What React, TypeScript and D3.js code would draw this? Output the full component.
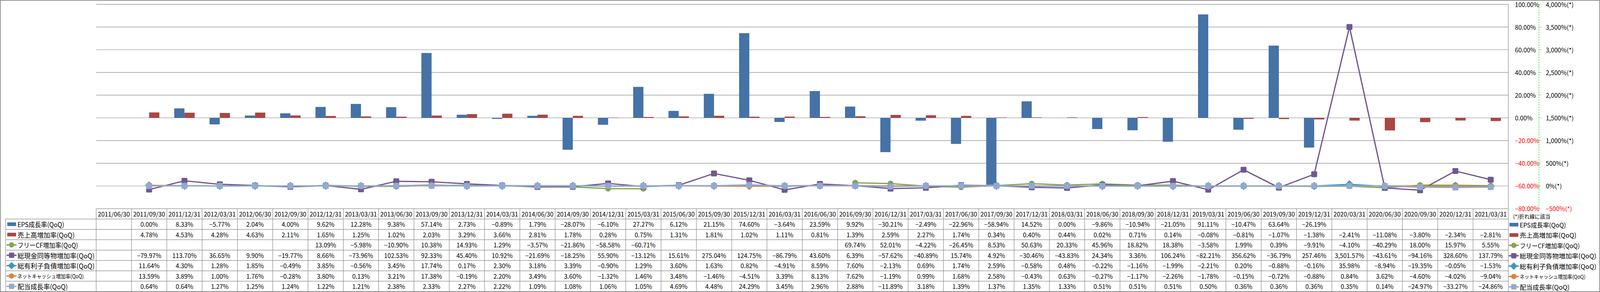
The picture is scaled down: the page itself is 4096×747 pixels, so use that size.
import React, { useEffect } from "react";
import * as d3 from "d3";

// quarter end dates (columns of the data table)
const dates = [
  "2011/06/30", "2011/09/30", "2011/12/31", "2012/03/31", "2012/06/30", "2012/09/30", "2012/12/31", "2013/03/31",
  "2013/06/30", "2013/09/30", "2013/12/31", "2014/03/31", "2014/06/30", "2014/09/30", "2014/12/31", "2015/03/31",
  "2015/06/30", "2015/09/30", "2015/12/31", "2016/03/31", "2016/06/30", "2016/09/30", "2016/12/31", "2017/03/31",
  "2017/06/30", "2017/09/30", "2017/12/31", "2018/03/31", "2018/06/30", "2018/09/30", "2018/12/31", "2019/03/31",
  "2019/06/30", "2019/09/30", "2019/12/31", "2020/03/31", "2020/06/30", "2020/09/30", "2020/12/31", "2021/03/31",
];

// bars (left axis, %)
const epsGrowth: (number | null)[] = [
  null, 0.0, 8.33, -5.77, 2.04, 4.0, 9.62, 12.28, 9.38, 57.14, 2.73, -0.89, 1.79, -28.07, -6.1, 27.27, 6.12, 21.15,
  74.6, -3.64, 23.59, 9.92, -30.21, -2.49, -22.96, -58.94, 14.52, 0.0, -9.86, -10.94, -21.05, 91.11, -10.47, 63.64,
  -26.19, null, null, null, null, null,
];
const salesGrowth: (number | null)[] = [
  null, 4.78, 4.53, 4.28, 4.63, 2.11, 1.65, 1.25, 1.02, 2.03, 3.29, 3.66, 2.81, 1.78, 0.28, 0.75, 1.31, 1.81, 1.02,
  1.11, 0.81, 1.39, 2.59, 2.27, 1.74, 0.34, 0.4, 0.44, 0.02, 0.71, 0.14, -0.08, -0.81, -1.07, -1.38, -2.41, -11.08,
  -3.8, -2.34, -2.81,
];

// lines (right axis, %)
const fcfGrowth: (number | null)[] = [
  null, null, null, null, null, null, 13.09, -5.98, -10.9, 10.38, 14.93, 1.29, -3.57, -21.86, -58.58, -60.71, null,
  null, null, null, null, 69.74, 52.01, -4.22, -26.45, 8.53, 50.63, 20.33, 45.96, 18.82, 18.38, -3.58, 1.99, 0.39,
  -9.91, -4.1, -40.29, 18.0, 15.97, 5.55,
];
const cashGrowth: (number | null)[] = [
  null, -79.97, 113.7, 36.65, 9.9, -19.77, 8.66, -73.96, 102.53, 92.33, 45.4, 10.92, -21.69, -18.25, 55.9, -13.12,
  15.61, 275.04, 124.75, -86.79, 43.6, 6.39, -57.62, -40.89, 15.74, 4.92, -30.46, -43.83, 24.34, 3.36, 106.24,
  -82.21, 356.62, -36.79, 257.46, 3501.57, -43.61, -94.16, 328.6, 137.79,
];
const debtGrowth: (number | null)[] = [
  null, 11.64, 4.3, 1.28, 1.85, -0.49, 3.85, -0.56, 3.45, 17.74, 0.17, 2.3, 3.18, 3.39, -0.9, 1.29, 3.6, 1.63, 0.82,
  -4.91, 8.59, 7.6, -2.13, 0.69, 1.74, 2.59, -0.58, 0.48, -0.22, -1.16, -1.99, -2.21, 0.2, -0.88, -0.16, 35.98,
  -8.94, -19.35, -0.05, -1.53,
];
const netCashGrowth: (number | null)[] = [
  null, 13.59, 3.89, 1.0, 1.76, -0.28, 3.8, 0.13, 3.21, 17.38, -0.19, 2.2, 3.49, 3.6, -1.32, 1.46, 3.48, -1.46,
  -4.51, 3.39, 8.13, 7.62, -1.19, 0.99, 1.68, 2.58, -0.43, 0.63, -0.27, -1.17, -2.26, -1.78, -0.15, -0.72, -0.88,
  0.84, 3.62, -4.6, -4.02, -9.04,
];
const dividendGrowth: (number | null)[] = [
  null, 0.64, 0.64, 1.27, 1.25, 1.24, 1.22, 1.21, 2.38, 2.33, 2.27, 2.22, 1.09, 1.08, 1.06, 1.05, 4.69, 4.48, 24.29,
  3.45, 2.96, 2.88, -11.89, 3.18, 1.39, 1.37, 1.35, 1.33, 0.51, 0.51, 0.51, 0.5, 0.36, 0.36, 0.36, 0.35, 0.14,
  -24.97, -33.27, -24.86,
];

const leftTicks = d3.range(-80, 101, 20);
const rightTicks = d3.range(-500, 4001, 500);

type Marker = "rect" | "circle" | "square" | "diamond";
interface Series {
  name: string;
  values: (number | null)[];
  color: string;
  kind: "bar" | "line";
  marker: Marker;
  labelWidth: number;
  labelSize: number;
}

const series: Series[] = [
  { name: "EPS成長率(QoQ)", values: epsGrowth, color: "#4572A7", kind: "bar", marker: "rect", labelWidth: 206, labelSize: 29 },
  { name: "売上高増加率(QoQ)", values: salesGrowth, color: "#AA4643", kind: "bar", marker: "rect", labelWidth: 252, labelSize: 29 },
  { name: "フリーCF増加率(QoQ)", values: fcfGrowth, color: "#89A54E", kind: "line", marker: "circle", labelWidth: 267, labelSize: 29 },
  { name: "総現金同等物増加率(QoQ)", values: cashGrowth, color: "#71588F", kind: "line", marker: "square", labelWidth: 340, labelSize: 29 },
  { name: "総有利子負債増加率(QoQ)", values: debtGrowth, color: "#4198AF", kind: "line", marker: "diamond", labelWidth: 340, labelSize: 29 },
  { name: "ネットキャッシュ増加率(QoQ)", values: netCashGrowth, color: "#DB843D", kind: "line", marker: "circle", labelWidth: 292, labelSize: 24 },
  { name: "配当成長率(QoQ)", values: dividendGrowth, color: "#93A9CF", kind: "line", marker: "square", labelWidth: 222, labelSize: 29 },
];

// layout, in reference pixels (the viewBox scales it down)
const W = 7052;
const H = 1286;
const plot = { left: 424, right: 6648, top: 19, bottom: 919 };
const tableBottom = 1284;
const rowH = (tableBottom - plot.bottom) / 8;
const labelLeft = 25;
const FONT = "'Noto Sans CJK JP', 'Noto Sans', sans-serif";
const grid = "#868686";

const fmtCell = (v: number) => d3.format(",.2f")(v) + "%";
const fmtLeft = (v: number) => d3.format(".2f")(v) + "%";
const fmtRight = (v: number) => d3.format(",")(v) + "%(*)";

function MarkerShape({ type, x, y, color, s = 1 }: { type: Marker; x: number; y: number; color: string; s?: number }) {
  if (type === "circle") return <circle cx={x} cy={y} r={13 * s} fill={color} />;
  if (type === "square")
    return <rect x={x - 13 * s} y={y - 13 * s} width={26 * s} height={26 * s} rx={4} fill={color} />;
  if (type === "diamond") {
    const d = 18 * s;
    return <path d={`M${x},${y - d}L${x + d},${y}L${x},${y + d}L${x - d},${y}Z`} fill={color} />;
  }
  return null;
}

function LegendKey({ s, x, y }: { s: Series; x: number; y: number }) {
  // x = left of key; key spans 44px
  if (s.kind === "bar") return <rect x={x + 3} y={y - 8} width={39} height={16} fill={s.color} />;
  return (
    <g>
      <line x1={x} x2={x + 44} y1={y} y2={y} stroke={s.color} strokeWidth={6} />
      <MarkerShape type={s.marker} x={x + 22} y={y} color={s.color} s={0.9} />
    </g>
  );
}

export default function App() {
  useEffect(() => {
    document.body.style.margin = "0";
  }, []);

  const x = d3.scaleBand<string>().domain(dates).range([plot.left, plot.right]);
  const bw = x.bandwidth();
  const barW = 45;
  const yL = d3.scaleLinear().domain([-80, 100]).range([plot.bottom, plot.top]);
  const yR = d3.scaleLinear().domain([-500, 4000]).range([plot.bottom, plot.top]);
  const cx = (d: string) => (x(d) as number) + bw / 2;

  const bars = series.filter((s) => s.kind === "bar");
  const lines = series.filter((s) => s.kind === "line");

  const lineGen = d3
    .line<number | null>()
    .defined((v) => v !== null)
    .x((_, i) => cx(dates[i]))
    .y((v) => yR(v as number));

  const axisX = 6783;

  return (
    <svg
      width={4096}
      height={747}
      viewBox={`0 0 ${W} ${H}`}
      style={{ position: "absolute", left: 0, top: 0, background: "#fff" }}
      fontFamily={FONT}
    >
      <rect x={0} y={0} width={W} height={H} fill="#fff" />

      {/* horizontal gridlines */}
      {leftTicks.map((t) => (
        <line key={t} x1={plot.left} x2={plot.right} y1={yL(t)} y2={yL(t)} stroke={grid} strokeWidth={2} />
      ))}

      {/* bars */}
      {bars.map((s, si) =>
        s.values.map((v, i) =>
          v === null ? null : (
            <rect
              key={s.name + i}
              x={cx(dates[i]) - barW + si * barW}
              y={Math.min(yL(v), yL(0))}
              width={barW}
              height={Math.abs(yL(v) - yL(0))}
              fill={s.color}
            />
          )
        )
      )}

      {/* lines + markers */}
      {lines.map((s) => (
        <g key={s.name}>
          <path d={lineGen(s.values) || ""} fill="none" stroke={s.color} strokeWidth={5.5} strokeLinejoin="round" />
          {s.values.map((v, i) =>
            v === null ? null : <MarkerShape key={i} type={s.marker} x={cx(dates[i])} y={yR(v)} color={s.color} />
          )}
        </g>
      ))}

      {/* plot right edge */}
      <line x1={plot.right} x2={plot.right} y1={plot.top} y2={tableBottom} stroke={grid} strokeWidth={2} />

      {/* primary axis labels */}
      {leftTicks.map((t) => (
        <text
          key={t}
          x={6677}
          y={yL(t)}
          dominantBaseline="central"
          fontSize={27}
          fill={t < 0 ? "#FF0000" : "#000"}
        >
          {fmtLeft(t)}
        </text>
      ))}

      {/* secondary axis line */}
      <line x1={axisX} x2={axisX} y1={plot.top} y2={plot.bottom} stroke="#22DD22" strokeWidth={2.5} strokeDasharray="6 5" />
      {rightTicks.map((t) => (
        <g key={t}>
          <line x1={axisX} x2={axisX + 10} y1={yR(t)} y2={yR(t)} stroke="#22DD22" strokeWidth={2.5} strokeDasharray="4 3" />
          <text x={6813} y={yR(t)} dominantBaseline="central" fontSize={27} fill={t < 0 ? "#FF0000" : "#000"}>
            {fmtRight(t)}
          </text>
        </g>
      ))}
      <text x={6669} y={953} dominantBaseline="central" fontSize={23} fill="#000">
        (*)折れ線に該当
      </text>

      {/* data table */}
      <g stroke={grid} strokeWidth={2}>
        {d3.range(1, 9).map((r) => (
          <line key={r} x1={labelLeft} x2={plot.right} y1={plot.bottom + r * rowH} y2={plot.bottom + r * rowH} />
        ))}
        <line x1={labelLeft} x2={labelLeft} y1={plot.bottom + rowH} y2={tableBottom} />
        {dates.map((d) => (
          <line key={d} x1={x(d)} x2={x(d)} y1={plot.bottom} y2={tableBottom} />
        ))}
      </g>
      {dates.map((d) => (
        <text key={d} x={cx(d)} y={plot.bottom + rowH / 2} textAnchor="middle" dominantBaseline="central" fontSize={27}>
          {d}
        </text>
      ))}
      {series.map((s, r) => {
        const yc = plot.bottom + (r + 1.5) * rowH;
        return (
          <g key={s.name}>
            <LegendKey s={s} x={29} y={yc} />
            <text
              x={77}
              y={yc}
              dominantBaseline="central"
              fontSize={s.labelSize}
              textLength={s.labelWidth}
              lengthAdjust="spacingAndGlyphs"
            >
              {s.name}
            </text>
            {s.values.map((v, i) =>
              v === null ? null : (
                <text key={i} x={cx(dates[i])} y={yc} textAnchor="middle" dominantBaseline="central" fontSize={27}>
                  {fmtCell(v)}
                </text>
              )
            )}
            {/* right-hand legend */}
            <LegendKey s={s} x={6650} y={yc + 2} />
            <text
              x={6698}
              y={yc + 2}
              dominantBaseline="central"
              fontSize={s.labelSize - 1}
              textLength={s.labelWidth - 2}
              lengthAdjust="spacingAndGlyphs"
            >
              {s.name}
            </text>
          </g>
        );
      })}

      {/* outer border */}
      <rect x={1.5} y={1.5} width={W - 3} height={H - 3} fill="none" stroke={grid} strokeWidth={3} />
    </svg>
  );
}
